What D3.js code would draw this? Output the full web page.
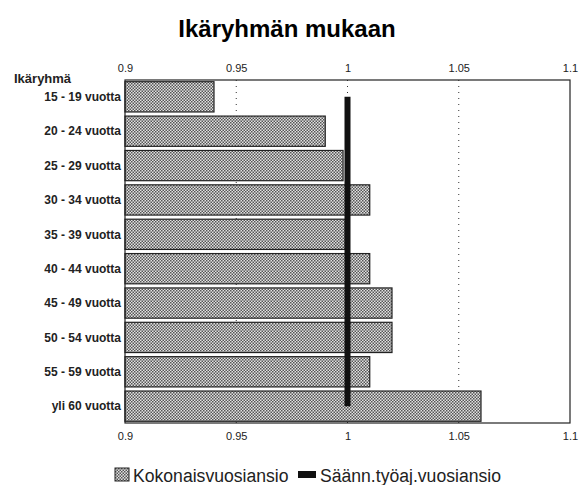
<!DOCTYPE html>
<meta charset="utf-8">
<head>
	<title>Ikäryhmän mukaan</title>
	<script src="https://cdnjs.cloudflare.com/ajax/libs/d3/7.8.5/d3.min.js"></script>
</head>
<style type="text/css">
	body {
		margin: 0;
		background: #fff;
		font-family: "Liberation Sans", Arial, sans-serif;
	}
	.title {
		font-size: 24px;
		font-weight: bold;
	}
	.tick text {
		font-size: 11px;
	}
	.cat {
		font-size: 12px;
		font-weight: bold;
		fill: #222;
	}
	.legend text {
		font-size: 17.6px;
		fill: #222;
	}
</style>
<body>
<div id="chart"></div>
<script>
	// age groups, top to bottom
	var categories = ["15 - 19 vuotta", "20 - 24 vuotta", "25 - 29 vuotta", "30 - 34 vuotta",
		"35 - 39 vuotta", "40 - 44 vuotta", "45 - 49 vuotta", "50 - 54 vuotta",
		"55 - 59 vuotta", "yli 60 vuotta"];
	// Kokonaisvuosiansio (bars)
	var totalValues = [0.94, 0.99, 0.998, 1.01, 0.999, 1.01, 1.02, 1.02, 1.01, 1.06];
	// Säänn.työaj.vuosiansio (thick line)
	var regularValues = [1, 1, 1, 1, 1, 1, 1, 1, 1, 1];
	var tickValues = [0.9, 0.95, 1, 1.05, 1.1];
	var seriesNames = ["Kokonaisvuosiansio", "Säänn.työaj.vuosiansio"];

	var W = 587, H = 485;
	var margin = {top: 80, right: 17, bottom: 62, left: 125};
	var width = W - margin.left - margin.right,
		height = H - margin.top - margin.bottom;

	var svg = d3.select("#chart").append("svg")
		.attr("width", W)
		.attr("height", H);

	// dotted grey fill like the printed original
	var defs = svg.append("defs");
	var pat = defs.append("pattern")
		.attr("id", "dots")
		.attr("patternUnits", "userSpaceOnUse")
		.attr("width", 3)
		.attr("height", 3);
	pat.append("rect").attr("width", 3).attr("height", 3).attr("fill", "#e2e2e2");
	pat.append("rect").attr("x", 0).attr("y", 0).attr("width", 1.5).attr("height", 1.5).attr("fill", "#555");
	pat.append("rect").attr("x", 1.5).attr("y", 1.5).attr("width", 1.5).attr("height", 1.5).attr("fill", "#555");

	svg.append("text")
		.attr("class", "title")
		.attr("x", 287)
		.attr("y", 37)
		.attr("text-anchor", "middle")
		.text("Ikäryhmän mukaan");

	var g = svg.append("g")
		.attr("transform", "translate(" + margin.left + "," + margin.top + ")");

	var x = d3.scaleLinear().domain([0.9, 1.1]).range([0, width]);
	var y = d3.scaleBand().domain(categories).range([0, height])
		.paddingInner(0.12).paddingOuter(0.05);

	// dotted gridlines
	g.selectAll(".grid")
		.data(tickValues.slice(1, -1))
		.enter().append("line")
		.attr("x1", function(d) { return x(d); })
		.attr("x2", function(d) { return x(d); })
		.attr("y1", 0)
		.attr("y2", height)
		.attr("stroke", "#333")
		.attr("stroke-width", 1)
		.attr("stroke-dasharray", "1,5");

	g.selectAll(".bar")
		.data(totalValues)
		.enter().append("rect")
		.attr("class", "bar")
		.attr("x", x(0.9))
		.attr("y", function(d, i) { return y(categories[i]); })
		.attr("width", function(d) { return x(d) - x(0.9); })
		.attr("height", y.bandwidth())
		.attr("fill", "url(#dots)")
		.attr("stroke", "#222")
		.attr("stroke-width", 1.2);

	var line = d3.line()
		.x(function(d) { return x(d); })
		.y(function(d, i) { return y(categories[i]) + y.bandwidth() / 2; });

	g.append("path")
		.datum(regularValues)
		.attr("d", line)
		.attr("fill", "none")
		.attr("stroke", "#111")
		.attr("stroke-width", 6);

	// frame
	g.append("rect")
		.attr("width", width)
		.attr("height", height)
		.attr("fill", "none")
		.attr("stroke", "#222")
		.attr("stroke-width", 1.2);

	var fmt = function(d) { return String(+d.toFixed(2)); };

	var topAxis = g.append("g")
		.call(d3.axisTop(x).tickValues(tickValues).tickFormat(fmt).tickSize(0).tickPadding(8));
	topAxis.select(".domain").remove();

	var botAxis = g.append("g")
		.attr("transform", "translate(0," + height + ")")
		.call(d3.axisBottom(x).tickValues(tickValues).tickFormat(fmt).tickSize(0).tickPadding(9));
	botAxis.select(".domain").remove();

	g.selectAll(".tick text").attr("fill", "#222").style("font-family", "'Liberation Sans', Arial, sans-serif");

	g.selectAll(".cat")
		.data(categories)
		.enter().append("text")
		.attr("class", "cat")
		.attr("x", -4)
		.attr("y", function(d) { return y(d) + y.bandwidth() / 2; })
		.attr("dy", "0.35em")
		.attr("text-anchor", "end")
		.text(function(d) { return d; });

	svg.append("text")
		.attr("class", "cat")
		.attr("x", 14)
		.attr("y", 83)
		.style("font-size", "13px")
		.text("Ikäryhmä");

	// legend
	var legend = svg.append("g").attr("class", "legend")
		.attr("transform", "translate(115,468)");
	legend.append("rect")
		.attr("x", 0).attr("y", 0).attr("width", 14).attr("height", 13)
		.attr("fill", "url(#dots)").attr("stroke", "#222");
	legend.append("text").attr("x", 18).attr("y", 14).text(seriesNames[0]);
	legend.append("rect")
		.attr("x", 183).attr("y", 3).attr("width", 18).attr("height", 7)
		.attr("fill", "#111");
	legend.append("text").attr("x", 205).attr("y", 14).text(seriesNames[1]);
</script>
</body>
